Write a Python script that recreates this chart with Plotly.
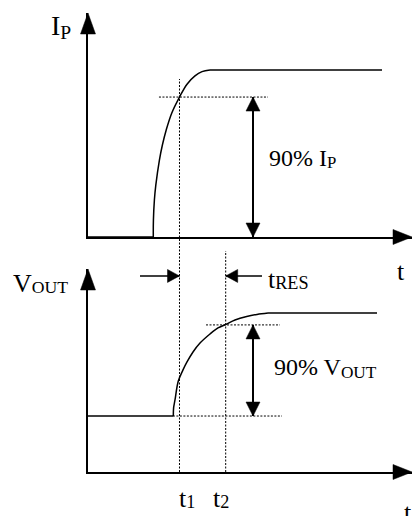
import plotly.graph_objects as go

W, H = 412, 516

# ---------------- data (arbitrary units) ----------------
# top panel: photocurrent I_P vs time
t_ip_base = [0.0, 2.015]
ip_base = [0.0, 0.0]
t_ip_rise = [2.015, 2.019, 2.049, 2.093, 2.204, 2.296, 2.414, 2.586, 2.824, 3.056, 3.302, 3.519, 3.765]
ip_rise = [0.0, 0.102, 0.222, 0.311, 0.461, 0.551, 0.641, 0.743, 0.838, 0.915, 0.965, 0.990, 1.0]
t_ip_flat = [3.765, 9.074]
ip_flat = [1.0, 1.0]

# bottom panel: output voltage V_OUT vs time
t_v_base = [0.0, 2.633]
v_base = [0.352, 0.352]
t_v_rise = [2.633, 2.642, 2.685, 2.787, 2.932, 3.056, 3.241, 3.457, 3.765, 4.012, 4.250, 4.537, 4.898,
            5.216, 5.556]
v_rise = [0.352, 0.403, 0.453, 0.572, 0.642, 0.692, 0.755, 0.811, 0.868, 0.906, 0.928, 0.956, 0.978,
          0.991, 1.0]
t_v_flat = [5.556, 8.92]
v_flat = [1.0, 1.0]

# markers
t1 = 2.824
t2 = 4.25
ip_90 = 0.838
v_90 = 0.925
v_low = 0.352
t_arrow = 5.093
ip_90_span = [2.19, 5.556]
v_90_span = [3.642, 5.926]
v_low_span = [2.62, 5.988]
t_res_level = 1.233
t_res_left_tail = 1.605
t_res_right_tail = 5.37
t1_top_ip = 0.946
t2_top_v = 1.39

# ---------------- layout geometry ----------------
x_dom = [88 / W, 1.0]
x_rng = [0, 10]
y1_dom = [(H - 237) / H, (H - 13) / H]
y1_rng = [0, 224 / 167]
y2_dom = [(H - 472) / H, (H - 269) / H]
y2_rng = [0, 203 / 159]


def top_paper(v):
    return y1_dom[0] + (v - y1_rng[0]) / (y1_rng[1] - y1_rng[0]) * (y1_dom[1] - y1_dom[0])


def bot_paper(v):
    return y2_dom[0] + (v - y2_rng[0]) / (y2_rng[1] - y2_rng[0]) * (y2_dom[1] - y2_dom[0])


def x_paper(t):
    return x_dom[0] + (t - x_rng[0]) / (x_rng[1] - x_rng[0]) * (x_dom[1] - x_dom[0])


BLACK = "black"
FONT = "Liberation Serif"
DOT = "2px,1.5px"

fig = go.Figure()
line_style = dict(color=BLACK, width=1.5)
for xs, ys in [(t_ip_base, ip_base), (t_ip_flat, ip_flat)]:
    fig.add_trace(go.Scatter(x=xs, y=ys, mode="lines", line=line_style, xaxis="x", yaxis="y", hoverinfo="skip"))
fig.add_trace(go.Scatter(x=t_ip_rise, y=ip_rise, mode="lines", line=dict(color=BLACK, width=1.5, shape="spline"),
                         xaxis="x", yaxis="y", hoverinfo="skip"))
for xs, ys in [(t_v_base, v_base), (t_v_flat, v_flat)]:
    fig.add_trace(go.Scatter(x=xs, y=ys, mode="lines", line=line_style, xaxis="x2", yaxis="y2", hoverinfo="skip"))
fig.add_trace(go.Scatter(x=t_v_rise, y=v_rise, mode="lines", line=dict(color=BLACK, width=1.5, shape="spline"),
                         xaxis="x2", yaxis="y2", hoverinfo="skip"))

shapes = []
# dotted guide lines
dot_line = dict(color=BLACK, width=1, dash=DOT)
shapes.append(dict(type="line", xref="x", yref="y", x0=ip_90_span[0], x1=ip_90_span[1], y0=ip_90, y1=ip_90,
                   line=dot_line))
shapes.append(dict(type="line", xref="x2", yref="y2", x0=v_90_span[0], x1=v_90_span[1], y0=v_90, y1=v_90,
                   line=dot_line))
shapes.append(dict(type="line", xref="x2", yref="y2", x0=v_low_span[0], x1=v_low_span[1], y0=v_low, y1=v_low,
                   line=dot_line))
shapes.append(dict(type="line", xref="paper", yref="paper", x0=x_paper(t1), x1=x_paper(t1),
                   y0=bot_paper(0), y1=top_paper(t1_top_ip), line=dot_line))
shapes.append(dict(type="line", xref="paper", yref="paper", x0=x_paper(t2), x1=x_paper(t2),
                   y0=bot_paper(0), y1=bot_paper(t2_top_v), line=dot_line))


def head(xref, yref, x, y, path):
    shapes.append(dict(type="path", xref=xref, yref=yref, xsizemode="pixel", ysizemode="pixel",
                       xanchor=x, yanchor=y, path=path, fillcolor=BLACK, line=dict(color=BLACK, width=0.5)))


# axis arrowheads (pixel-sized triangles)
for ydom in (y1_dom, y2_dom):
    head("paper", "paper", x_dom[0], ydom[1], "M0,0 L-7.5,-21 L7.5,-21 Z")
    head("paper", "paper", x_dom[1], ydom[0], "M0,0 L-19,7.5 L-19,-7.5 Z")

# double arrows (90 % spans)
shapes.append(dict(type="line", xref="x", yref="y", x0=t_arrow, x1=t_arrow, y0=0, y1=ip_90,
                   line=dict(color=BLACK, width=2)))
head("x", "y", t_arrow, ip_90, "M0,0 L-7,-14 L7,-14 Z")
head("x", "y", t_arrow, 0, "M0,0 L-7,14 L7,14 Z")
shapes.append(dict(type="line", xref="x2", yref="y2", x0=t_arrow, x1=t_arrow, y0=v_low, y1=v_90,
                   line=dict(color=BLACK, width=2)))
head("x2", "y2", t_arrow, v_90, "M0,0 L-7,-14 L7,-14 Z")
head("x2", "y2", t_arrow, v_low, "M0,0 L-7,14 L7,14 Z")

# t_RES arrows
shapes.append(dict(type="line", xref="x2", yref="y2", x0=t_res_left_tail, x1=t1, y0=t_res_level, y1=t_res_level,
                   line=dict(color=BLACK, width=1.5)))
head("x2", "y2", t1, t_res_level, "M0,0 L-12,6.5 L-12,-6.5 Z")
shapes.append(dict(type="line", xref="x2", yref="y2", x0=t2, x1=t_res_right_tail, y0=t_res_level, y1=t_res_level,
                   line=dict(color=BLACK, width=1.5)))
head("x2", "y2", t2, t_res_level, "M0,0 L12,6.5 L12,-6.5 Z")

annotations = []


def sub(s, pct=70, shift=-3):
    return '<span style="font-size:%d%%;baseline-shift:%dpx">%s</span>' % (pct, shift, s)


def label(text, px, py, size=24):
    annotations.append(dict(xref="paper", yref="paper", x=px / W, y=(H - py) / H, xanchor="left", yanchor="middle",
                            text=text, showarrow=False, font=dict(family=FONT, size=size, color=BLACK)))


label("I" + sub("P", 70, -4), 49, 27, 28)
label("V" + sub("OUT", 68, -1), 11, 283, 26)
label("90% I" + sub("P", 70, -2), 267, 158, 24)
label("90% V" + sub("OUT", 72, -3), 272, 368, 24)
label("t" + sub("RES", 70, -1), 266, 279, 26)
label("t", 395, 271, 26)
label("t" + sub("1", 70, -1), 177, 498, 26)
label("t" + sub("2", 70, -1), 211, 498, 26)
label("t", 402, 512, 26)

axis_common = dict(showgrid=False, zeroline=False, showticklabels=False, ticks="", showline=True,
                   linecolor=BLACK, linewidth=2, fixedrange=True)
fig.update_layout(
    width=W, height=H, margin=dict(l=0, r=0, t=0, b=0), showlegend=False,
    paper_bgcolor="white", plot_bgcolor="white",
    xaxis=dict(domain=x_dom, range=x_rng, anchor="y", **axis_common),
    yaxis=dict(domain=y1_dom, range=y1_rng, anchor="x", **axis_common),
    xaxis2=dict(domain=x_dom, range=x_rng, anchor="y2", **axis_common),
    yaxis2=dict(domain=y2_dom, range=y2_rng, anchor="x2", **axis_common),
    shapes=shapes, annotations=annotations,
)
fig.write_html("out.html", config={"displayModeBar": False, "staticPlot": True},
               post_script="document.body.style.margin='0px';document.body.style.overflow='hidden';")
